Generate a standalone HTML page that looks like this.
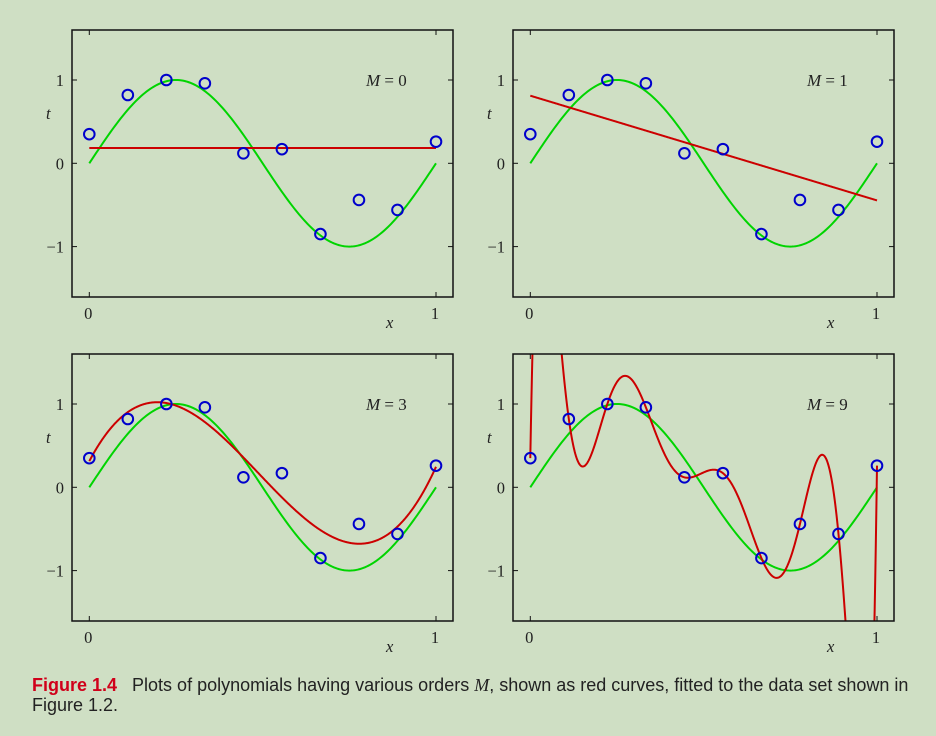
<!DOCTYPE html>
<html><head><meta charset="utf-8"><style>
html,body{margin:0;overflow:hidden}
body{background:#cfdfc4;width:936px;height:736px;position:relative;font-family:"Liberation Sans",sans-serif}
#cap{position:absolute;left:32px;top:675px;font-size:18px;color:#222;line-height:20px;white-space:nowrap}
#cap b{color:#d0001a}
svg text{font-family:"Liberation Serif",serif;fill:#222}
</style></head><body>
<svg id="fig" width="936" height="660" style="position:absolute;left:0;top:0"></svg>
<div id="cap"><b>Figure 1.4</b>&nbsp;&nbsp;&nbsp;Plots of polynomials having various orders <i style="font-family:'Liberation Serif',serif">M</i>, shown as red curves, fitted to the data set shown in<br>Figure 1.2.</div>
<script>
const xs=[0,1/9,2/9,3/9,4/9,5/9,6/9,7/9,8/9,1];
const ts=[0.35,0.82,1.0,0.96,0.12,0.17,-0.85,-0.44,-0.56,0.26];
const orders=[0,1,3,9];
const yTicks=[-1,0,1];
const xTicks=[0,1];
const NS="http://www.w3.org/2000/svg";
const svg=document.getElementById('fig');
function mk(t,a,p){const e=document.createElementNS(NS,t);for(const k in a)e.setAttribute(k,a[k]);(p||svg).appendChild(e);return e;}
function fit(M){
  const n=M+1,A=[],b=[];
  for(let i=0;i<n;i++){A.push(new Array(n).fill(0));b.push(0);}
  for(let k=0;k<xs.length;k++){for(let i=0;i<n;i++){b[i]+=Math.pow(xs[k],i)*ts[k];for(let j=0;j<n;j++)A[i][j]+=Math.pow(xs[k],i+j);}}
  if(M===9){for(let i=0;i<n;i++){b[i]=ts[i];for(let j=0;j<n;j++)A[i][j]=Math.pow(xs[i],j);}}
  for(let c=0;c<n;c++){let p=c;for(let r=c+1;r<n;r++)if(Math.abs(A[r][c])>Math.abs(A[p][c]))p=r;
    [A[c],A[p]]=[A[p],A[c]];[b[c],b[p]]=[b[p],b[c]];
    for(let r=c+1;r<n;r++){const f=A[r][c]/A[c][c];for(let j=c;j<n;j++)A[r][j]-=f*A[c][j];b[r]-=f*b[c];}}
  const w=new Array(n).fill(0);
  for(let i=n-1;i>=0;i--){let s=b[i];for(let j=i+1;j<n;j++)s-=A[i][j]*w[j];w[i]=s/A[i][i];}
  return x=>w.reduce((s,c,i)=>s+c*Math.pow(x,i),0);
}
const panels=[[0,0],[441,0],[0,324],[441,324]];
orders.forEach((M,pi)=>{
  const dx=panels[pi][0],dy=panels[pi][1];
  const sx=x=>89.3+dx+x*346.7, sy=t=>163.3+dy-t*83.3;
  const L=72+dx,R=453+dx,T=30+dy,B=297+dy;
  const g=mk('g',{});
  
  
  const cid='clip'+pi;
  const cp=mk('clipPath',{id:cid},g);mk('rect',{x:L,y:T,width:R-L,height:B-T},cp);
  let d='';for(let i=0;i<=200;i++){const x=i/200;d+=(i?'L':'M')+sx(x).toFixed(2)+' '+sy(Math.sin(2*Math.PI*x)).toFixed(2);}
  const gl=mk('path',{d:d,fill:'none',stroke:'#00d400','stroke-width':2},g);
  
  
  const f=fit(M);d='';
  for(let i=0;i<=600;i++){const x=i/600;let y=f(x);y=Math.max(-5,Math.min(5,y));d+=(i?'L':'M')+sx(x).toFixed(2)+' '+sy(y).toFixed(2);}
  const rl=mk('path',{d:d,fill:'none',stroke:'#cc0000','stroke-width':2,'clip-path':'url(#'+cid+')'},g);
  
  
  xs.forEach((x,i)=>{const c=mk('circle',{cx:sx(x),cy:sy(ts[i]),r:5.3,fill:'none',stroke:'#0000cc','stroke-width':2},g);
    
    });
  mk('rect',{x:L,y:T,width:R-L,height:B-T,fill:'none',stroke:'#111','stroke-width':1.5},g);
  yTicks.forEach(t=>{mk('line',{x1:L,x2:L+5,y1:sy(t),y2:sy(t),stroke:'#111'},g);mk('line',{x1:R,x2:R-5,y1:sy(t),y2:sy(t),stroke:'#111'},g);
    const tx=mk('text',{x:L-8,y:sy(t)+6,'text-anchor':'end','font-size':16.5},g);tx.textContent=t<0?'−'+(-t):String(t);
    
    });
  xTicks.forEach(x=>{mk('line',{x1:sx(x),x2:sx(x),y1:B,y2:B-5,stroke:'#111'},g);mk('line',{x1:sx(x),x2:sx(x),y1:T,y2:T+5,stroke:'#111'},g);
    const tx=mk('text',{x:sx(x)-1,y:B+22,'text-anchor':'middle','font-size':16.5},g);tx.textContent=String(x);
    
    });
  const xl=mk('text',{x:386+dx,y:328+dy,'font-size':16.5,'font-style':'italic'},g);xl.textContent='x';
  
  
  const yl=mk('text',{x:46+dx,y:119+dy,'font-size':16.5,'font-style':'italic'},g);yl.textContent='t';
  
  
  const ml=mk('text',{x:366+dx,y:86+dy,'font-size':17},g);
  ml.innerHTML='<tspan font-style="italic">M</tspan> = '+M;
  
  
});
</script>
</body></html>
